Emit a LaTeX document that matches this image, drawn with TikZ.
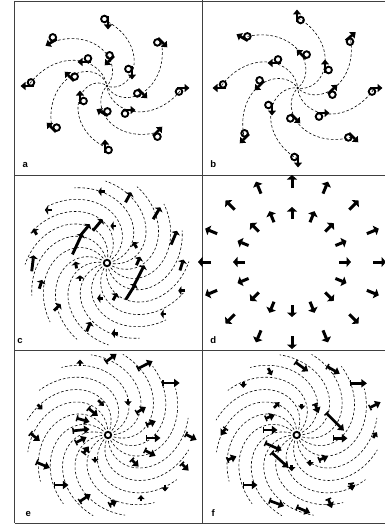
\documentclass[tikz,border=0pt]{standalone}
\usepackage{fontspec}
\setmainfont{Liberation Sans}
\usetikzlibrary{arrows.meta,calc}
\newcommand\Gl[5]{%
  \pgfmathsetmacro\fl{1.15*#5}%
  \pgfmathsetmacro\hl{\fl/2}%
  \draw[#1] ($(#2,#3)+(#4+180:\hl)$) -- ++(#4:\fl);%
}
\newcommand\ABglyph[3]{%
  \draw[abarr] ($(#1,#2)+(#3+180:5.5)$) -- ++(#3:13);%
  \draw[abloop] ($(#1,#2)+(#3+180:3)+(#3+90:3.6)$) circle[radius=3.3];%
}
\newcommand\ABarm[6]{% cx cy r1 p1 r2 p2
  \draw[arm] plot[domain=2.5:#5, samples=40, variable=\r]
   ({#1+\r*cos(#4+((#6)-(#4))*(\r-(#3))/((#5)-(#3)))},
    {#2+\r*sin(#4+((#6)-(#4))*(\r-(#3))/((#5)-(#3)))});%
}
\newcommand\Sarm[3]{%
  \draw[arm] plot[domain=6:82, samples=50, variable=\r]
   ({#1+\r*cos(#3-0.6*\r-0.00786*\r*\r)},
    {#2+\r*sin(#3-0.6*\r-0.00786*\r*\r)});%
}
\begin{document}
\begin{tikzpicture}[x=1pt,y=-1pt,
  frame/.style={draw=black!75, line width=0.7pt},
  arm/.style={line width=0.6pt, dash pattern=on 2.6pt off 2pt},
  abarr/.style={line width=2.7pt, -{Triangle[width=8pt,length=5pt]}},
  abloop/.style={line width=1.9pt},
  carr/.style={line width=2.9pt, -{Triangle[width=9pt,length=3.2pt]}},
  darr/.style={line width=3pt, -{Triangle[width=10pt,length=4.5pt]}},
  efarr/.style={line width=2.7pt, {Bar[width=6pt,line width=1.5pt]}-{Triangle[width=8pt,length=5.5pt]}},
  efsmall/.style={line width=2.7pt, -{Triangle[width=7pt,length=4pt]}},
  lab/.style={font=\fontsize{9.5}{10}\selectfont\bfseries, inner sep=0pt}
]
\useasboundingbox (0,0) rectangle (385,527);
% frame
\draw[frame] (14.5,1) -- (385,1);
\draw[frame] (14.5,175) -- (385,175);
\draw[frame] (14.5,350) -- (385,350);
\draw[frame] (14.5,523) -- (385,523);
\draw[frame] (14.5,1) -- (14.5,523);
\draw[frame] (202,0) -- (202,523);

% ---------- panel a ----------
\foreach \ra/\pa/\rb/\pb in {26/-83/70/-141, 29/-29/64/-89, 36/11/70/-39, 32/49/75/2,
   27/98/68/43, 30/156/61/92, 38/194/69/143, 33/227/79/180}
  {\ABarm{107}{86}{\ra}{\pa}{\rb}{\pb}}
\fill (107,86) circle[radius=1.4];
\foreach \x/\y/\a in {108/22/90, 52/42/150, 162/42/45, 85/62/180, 110/60/135, 132/72/90,
   70/77/-135, 28/86/180, 182/88/0, 142/93/45, 80/98/-90, 128/110/0, 103/113/-150,
   52/128/-135, 157/132/-45, 105/147/-90}
  {\ABglyph{\x}{\y}{\a}}

% ---------- panel b ----------
\foreach \ra/\pa/\rb/\pb in {33/-83/74/-137, 34/-38/71/-91, 34/3/73/-44, 35/46/77/0,
   30/96/74/41, 33/142/72/89, 38/184/73/137, 34/227/78/180}
  {\ABarm{297.7}{88}{\ra}{\pa}{\rb}{\pb}}
\fill (297.7,88) circle[radius=1.4];
\foreach \x/\y/\a in {297/17/-90, 243/38/-150, 350/37/-40, 275/63/180, 302/55/-135,
   325/67/-90, 220/88/180, 260/85/135, 332/90/-45, 375/88/0, 272/108/90, 295/118/45,
   322/113/0, 245/138/135, 353/137/45, 298/160/90}
  {\ABglyph{\x}{\y}{\a}}

% ---------- panel c ----------
\foreach \k in {0,...,15} {\Sarm{107}{263}{\k*22.5+11}}
\draw[line width=1.9pt] (107,263) circle[radius=3.2];
\foreach \x/\y/\a/\l in {101.7/191.7/180/6, 128.3/197.3/-61/10, 48.3/210/180/6,
   156.7/213.3/-59/12, 35/231.7/-120/6, 85/230/-50/13, 97.7/225/-50/13, 113.3/226/180/5,
   174/237.7/-67/13, 77.3/244/-65/20, 135/245/-120/6, 32.7/263.3/-83/14, 76/265/-100/6,
   138.3/261/-66/8, 181.7/265/-72/10, 139.3/275/-63/19, 130.7/291.7/-58/16, 80/278.3/-90/5,
   40.7/284.3/-72/8, 100/298.3/180/5, 115/296.7/-61/7, 181.7/290.7/180/6, 57.3/307.3/-45/8,
   163.3/314/180/5, 88.7/326.7/-67/9, 115/333.3/180/6}
  {\Gl{carr}{\x}{\y}{\a}{\l}}

% ---------- panel d ----------
\foreach \k in {0,...,15} {
  \pgfmathsetmacro\ang{\k*22.5}
  \draw[darr] ($(292,262)+(\ang:47 and 43)$) -- ++(\ang:12);
  \draw[darr] ($(292,262)+(\ang:81 and 74)$) -- ++(\ang:13);
}

% ---------- panel e ----------
\foreach \k in {0,...,15} {\Sarm{108}{435}{\k*22.5}}
\draw[line width=1.9pt] (108,435) circle[radius=3.2];
\foreach \x/\y/\a/\l in {111/358/-36/12, 145/365/-27/15, 171/383/0/15, 93/412/39/11,
   141/410/-31/10, 191/437/27/11, 83/420/16/12, 151/423/-22/9, 81/430/-6/15, 153/438/0/13,
   35/437/39/11, 81/440/-27/11, 86/450/-53/8, 150/453/27/11, 135/463/45/9, 43/465/23/13,
   185/467/45/9, 61/485/0/13, 85/498/-34/12, 113/503/-27/8}
  {\Gl{efarr}{\x}{\y}{\a}{\l}}
\foreach \x/\y/\a/\l in {80/363/-90/6, 40/407/45/6, 101/403/45/7, 128/402/90/6,
   95/460/90/5, 165/488/90/6, 141/498/-90/5}
  {\Gl{efsmall}{\x}{\y}{\a}{\l}}

% ---------- panel f ----------
\foreach \k in {0,...,15} {\Sarm{296.7}{435}{\k*22.5}}
\draw[line width=1.9pt] (296.7,435) circle[radius=3.2];
\foreach \x/\y/\a/\l in {301.7/366.7/36/14, 333.3/370/30/13, 358.3/383.3/0/15,
   316.7/408.3/68/9, 375/405/-27/11, 270/416.7/-22/9, 335/421.7/45/22, 270/430/0/13,
   340/438.3/0/13, 223.3/431.7/127/8, 273.3/446.7/24/16, 280/460/42/20, 323.3/458.3/-22/9,
   231.7/458.3/-22/9, 351.7/486.7/80/7, 250/485/0/13, 276.7/503.3/20/14, 303.3/510/23/13,
   330/503.3/68/9}
  {\Gl{efarr}{\x}{\y}{\a}{\l}}
\foreach \x/\y/\a/\l in {270/371.7/63/7, 243.3/385/90/5, 276.7/405/-45/7, 301.7/406.7/90/5,
   375/435/-56/6, 310/463.3/90/5, 291.7/468.3/90/5}
  {\Gl{efsmall}{\x}{\y}{\a}{\l}}

% labels
\node[lab] (la) at (25.3,165) {a};
\node[lab] (lb) at (213.3,164.5) {b};
\node[lab] (lc) at (20,341) {c};
\node[lab] (ld) at (213.3,340.5) {d};
\node[lab] (le) at (28.3,514) {e};
\node[lab] (lf) at (213.3,513) {f};
\end{tikzpicture}
\end{document}
